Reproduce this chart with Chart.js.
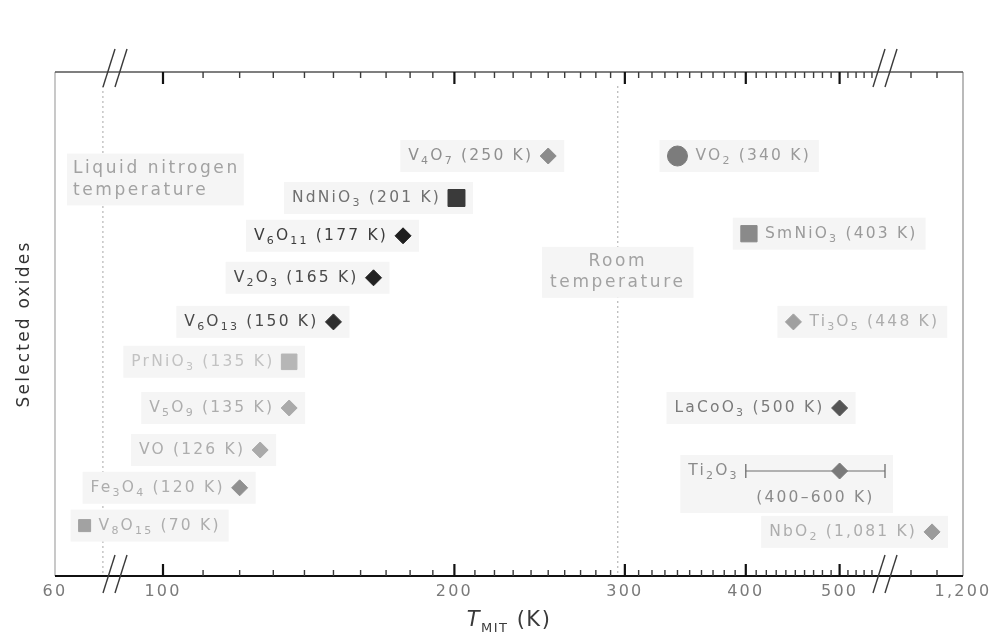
<!DOCTYPE html>
<html>
<head>
<meta charset="utf-8">
<title>Metal–insulator transition temperatures of selected oxides</title>
<script src="https://cdn.jsdelivr.net/npm/chart.js@4.4.1/dist/chart.umd.min.js"></script>
<style>
  html, body { margin: 0; padding: 0; background: #fff; }
  #wrap { width: 999px; height: 632px; }
</style>
</head>
<body>
<div id="wrap"><canvas id="chart" width="999" height="632"></canvas></div>
<script>
// ---- data -------------------------------------------------------------
// Formulas use {n} for subscripts.
const oxides  = ['V{4}O{7}', 'VO{2}', 'NdNiO{3}', 'V{6}O{11}', 'SmNiO{3}', 'V{2}O{3}', 'V{6}O{13}', 'Ti{3}O{5}',
                 'PrNiO{3}', 'V{5}O{9}', 'LaCoO{3}', 'VO', 'Ti{2}O{3}', 'Fe{3}O{4}', 'V{8}O{15}', 'NbO{2}'];
const tMitK   = [250, 340, 201, 177, 403, 165, 150, 448, 135, 135, 500, 126, 500, 120, 70, 1081];
const rowSlot = [2, 2, 3, 3.9, 3.85, 4.9, 5.95, 5.95, 6.9, 8, 8, 9, 9.5, 9.9, 10.8, 10.95];
const ti2o3RangeK = [400, 600];
const tickValuesK = [60, 100, 200, 300, 400, 500, 1200];
const tickLabels  = ['60', '100', '200', '300', '400', '500', '1,200'];
const liquidNitrogenK = 77;
const roomTemperatureK = 295;

// ---- styles -----------------------------------------------------------
const markerShape = ['rectRot', 'circle', 'rect', 'rectRot', 'rect', 'rectRot', 'rectRot', 'rectRot',
                     'rect', 'rectRot', 'rectRot', 'rectRot', 'rectRot', 'rectRot', 'rect', 'rectRot'];
const markerSize  = [8, 10, 12, 8, 11.5, 8, 8, 8, 11, 8, 8, 8, 8, 8, 8.5, 8];
const markerColor = ['#8c8c8c', '#7c7c7c', '#3a3a3a', '#1e1e1e', '#8a8a8a', '#222222', '#2e2e2e', '#a0a0a0',
                     '#b6b6b6', '#aaaaaa', '#555555', '#aaaaaa', '#7a7a7a', '#909090', '#a2a2a2', '#9c9c9c'];
const textColor   = ['#8e8e8e', '#9a9a9a', '#707070', '#3c3c3c', '#9a9a9a', '#4a4a4a', '#4a4a4a', '#adadad',
                     '#c2c2c2', '#adadad', '#7a7a7a', '#adadad', '#8a8a8a', '#adadad', '#adadad', '#adadad'];
const labelSide   = ['left', 'right', 'left', 'left', 'right', 'left', 'left', 'right',
                     'left', 'left', 'left', 'left', 'left', 'left', 'right', 'left'];
const FONT = '"DejaVu Sans", "Open Sans", sans-serif';
const BOX_FILL = '#f5f5f5';
const LETTER_SPACING = '2.2px';

// ---- broken temperature axis -------------------------------------------
// 60–82 K compressed, 89–550 K logarithmic, 900–1200 K linear after the break.
const AXIS_SPAN = 908;
function axisPos(k) {
  if (k <= 82) return 60 * Math.log(k / 60) / Math.log(82 / 60);
  if (k <= 550) return 108 + 968 * Math.log10(k / 100);
  const a = 108 + 968 * Math.log10(5.5);
  if (k <= 600) return a + (k - 550) / 50 * (830 - a);
  if (k < 900) return 830;
  return 830 + (k - 900) * (AXIS_SPAN - 830) / 300;
}
const breakLow = axisPos(82);
const breakHigh = axisPos(600);
const minorTicksK = [];
for (let k = 110; k <= 540; k += 10) if (k % 100 !== 0) minorTicksK.push(k);
minorTicksK.push(1000, 1100);
const majorTicksK = tickValuesK.slice(1, -1);

// ---- label helpers -----------------------------------------------------
function parseFormula(f) {
  const runs = [];
  const re = /([^{]+)|\{([^}]*)\}/g;
  let m;
  while ((m = re.exec(f))) runs.push(m[1] ? { t: m[1], sub: false } : { t: m[2], sub: true });
  return runs;
}
const fmtK = k => k.toLocaleString('en-US');
function runFont(r, size) { return r.sub ? `${Math.round(size * 0.68)}px ${FONT}` : `${size}px ${FONT}`; }
function runsWidth(ctx, runs, size) {
  let w = 0;
  for (const r of runs) { ctx.font = runFont(r, size); w += ctx.measureText(r.t).width; }
  return w;
}
function drawRuns(ctx, runs, x, y, align, color, size) {
  const w = runsWidth(ctx, runs, size);
  let cx = align === 'right' ? x - w : align === 'center' ? x - w / 2 : x;
  ctx.fillStyle = color;
  ctx.textBaseline = 'middle';
  ctx.textAlign = 'left';
  for (const r of runs) {
    ctx.font = runFont(r, size);
    ctx.fillText(r.t, cx, r.sub ? y + size * 0.33 : y);
    cx += ctx.measureText(r.t).width;
  }
}

const LABEL_SIZE = 15.5;
const tiIndex = oxides.indexOf('Ti{2}O{3}');

// Reference lines, annotation notes and oxide labels, under the markers.
const labelLayer = {
  id: 'labelLayer',
  beforeDraw(chart) {
    chart.ctx.letterSpacing = LETTER_SPACING;
  },
  beforeDatasetsDraw(chart) {
    const { ctx, chartArea: a, scales: { x, y } } = chart;
    const px = k => x.getPixelForValue(axisPos(k));
    ctx.save();

    ctx.strokeStyle = '#a8a8a8';
    ctx.lineWidth = 1;
    ctx.setLineDash([2, 3]);
    for (const k of [liquidNitrogenK, roomTemperatureK]) {
      ctx.beginPath();
      ctx.moveTo(px(k), a.top + 14);
      ctx.lineTo(px(k), a.bottom);
      ctx.stroke();
    }
    ctx.setLineDash([]);

    const noteSize = 17, noteColor = '#a2a2a2';
    ctx.letterSpacing = '2.6px';
    ctx.font = `${noteSize}px ${FONT}`;
    const lnX = px(liquidNitrogenK) - 30;
    const ln1 = 'Liquid nitrogen', ln2 = 'temperature';
    const lnW = Math.max(ctx.measureText(ln1).width, ctx.measureText(ln2).width);
    ctx.fillStyle = BOX_FILL;
    ctx.fillRect(lnX - 6, y.getPixelForValue(2.3) - 15, lnW + 10, y.getPixelForValue(2.82) - y.getPixelForValue(2.3) + 30);
    const rtX = px(roomTemperatureK);
    const rt1 = 'Room', rt2 = 'temperature';
    const rtW = ctx.measureText(rt2).width;
    ctx.fillRect(rtX - rtW / 2 - 8, y.getPixelForValue(4.52) - 15, rtW + 16, y.getPixelForValue(5.02) - y.getPixelForValue(4.52) + 30);
    ctx.fillStyle = noteColor;
    ctx.textBaseline = 'middle';
    ctx.textAlign = 'left';
    ctx.fillText(ln1, lnX, y.getPixelForValue(2.3));
    ctx.fillText(ln2, lnX, y.getPixelForValue(2.82));
    ctx.textAlign = 'center';
    ctx.fillText(rt1, rtX, y.getPixelForValue(4.52));
    ctx.fillText(rt2, rtX, y.getPixelForValue(5.02));
    ctx.letterSpacing = LETTER_SPACING;

    oxides.forEach((f, i) => {
      const mx = px(tMitK[i]);
      const my = y.getPixelForValue(rowSlot[i]);
      const half = markerShape[i] === 'rect' ? markerSize[i] * Math.SQRT1_2 : markerSize[i];
      const side = labelSide[i];
      let runs, anchor;
      if (i === tiIndex) {
        runs = parseFormula(f);
        anchor = px(ti2o3RangeK[0]) - 7;
      } else {
        runs = parseFormula(f).concat([{ t: ` (${fmtK(tMitK[i])} K)`, sub: false }]);
        anchor = side === 'left' ? mx - half - 7 : mx + half + 8;
      }
      const w = runsWidth(ctx, runs, LABEL_SIZE);
      const tl = side === 'left' ? anchor - w : anchor;
      const tr = tl + w;
      const bl = Math.min(tl, mx - half) - 8;
      let br = Math.max(tr, mx + half) + 8;
      let bb = my + 16;
      if (i === tiIndex) { br = px(ti2o3RangeK[1]) + 8; bb = my + 42; }
      ctx.fillStyle = BOX_FILL;
      ctx.fillRect(bl, my - 16, br - bl, bb - (my - 16));
      drawRuns(ctx, runs, anchor, my, side === 'left' ? 'right' : 'left', textColor[i], LABEL_SIZE);
      if (i === tiIndex) {
        const mid = (px(ti2o3RangeK[0]) + px(ti2o3RangeK[1])) / 2;
        drawRuns(ctx, [{ t: `(${ti2o3RangeK[0]}–${ti2o3RangeK[1]} K)`, sub: false }], mid, my + 27, 'center', textColor[i], LABEL_SIZE);
      }
    });
    ctx.restore();
  }
};

// Frame, inward ticks, axis breaks and the x-axis title, over everything.
const frameLayer = {
  id: 'frameLayer',
  afterDraw(chart) {
    const { ctx, chartArea: a, scales: { x } } = chart;
    ctx.save();
    ctx.setLineDash([]);

    ctx.lineWidth = 1.2;
    ctx.strokeStyle = '#a4a4a4';
    ctx.beginPath(); ctx.moveTo(a.left, a.top); ctx.lineTo(a.left, a.bottom); ctx.stroke();
    ctx.strokeStyle = '#8c8c8c';
    ctx.beginPath(); ctx.moveTo(a.right, a.top); ctx.lineTo(a.right, a.bottom); ctx.stroke();
    ctx.strokeStyle = '#555';
    ctx.lineWidth = 1.5;
    ctx.beginPath(); ctx.moveTo(a.left, a.top); ctx.lineTo(a.right, a.top); ctx.stroke();
    ctx.strokeStyle = '#111';
    ctx.lineWidth = 2.2;
    ctx.beginPath(); ctx.moveTo(a.left, a.bottom); ctx.lineTo(a.right, a.bottom); ctx.stroke();

    // inward tick marks, filled as thin bars on both the top and bottom axes
    const tickBar = (k, len, w, color) => {
      const xp = x.getPixelForValue(axisPos(k));
      ctx.fillStyle = color;
      ctx.fillRect(xp - w / 2, a.bottom - len, w, len);
      ctx.fillRect(xp - w / 2, a.top, w, len);
    };
    minorTicksK.forEach(k => tickBar(k, 6, 1.4, '#3a3a3a'));
    majorTicksK.forEach(k => tickBar(k, 12, 2.2, '#111'));

    ctx.strokeStyle = '#3a3a3a';
    ctx.lineWidth = 1.4;
    for (const b of [breakLow, breakHigh]) {
      const bx = x.getPixelForValue(b);
      for (const yy of [a.top - 4, a.bottom - 2]) {
        for (const o of [-6, 6]) {
          ctx.beginPath();
          ctx.moveTo(bx + o - 6, yy + 19);
          ctx.lineTo(bx + o + 6, yy - 19);
          ctx.stroke();
        }
      }
    }

    const cx = (a.left + a.right) / 2;
    const base = 626;
    ctx.letterSpacing = '1.5px';
    ctx.fillStyle = '#3a3a3a';
    ctx.textBaseline = 'alphabetic';
    ctx.textAlign = 'left';
    const parts = [
      { t: 'T', font: `italic 21px ${FONT}`, dy: 0 },
      { t: 'MIT', font: `13px ${FONT}`, dy: 6 },
      { t: ' (K)', font: `21px ${FONT}`, dy: 0 }
    ];
    let total = 0;
    parts.forEach(p => { ctx.font = p.font; p.w = ctx.measureText(p.t).width; total += p.w; });
    let tx = cx - total / 2;
    parts.forEach(p => { ctx.font = p.font; ctx.fillText(p.t, tx, base + p.dy); tx += p.w; });
    ctx.restore();
  }
};

// ---- chart --------------------------------------------------------------
const points = oxides.map((_, i) => ({ x: axisPos(tMitK[i]), y: rowSlot[i] }));

new Chart(document.getElementById('chart'), {
  type: 'scatter',
  data: {
    datasets: [
      {
        label: 'Selected oxides',
        data: points,
        pointStyle: markerShape,
        pointRadius: markerSize,
        pointBackgroundColor: markerColor,
        pointBorderColor: markerColor,
        pointBorderWidth: 1,
        order: 1
      },
      {
        type: 'line',
        label: 'Ti2O3 range',
        data: ti2o3RangeK.map(k => ({ x: axisPos(k), y: rowSlot[tiIndex] })),
        borderColor: '#6e6e6e',
        borderWidth: 1.2,
        pointStyle: 'line',
        rotation: 90,
        pointRadius: 7,
        pointBorderColor: '#6e6e6e',
        pointBorderWidth: 1.3,
        order: 2
      }
    ]
  },
  options: {
    responsive: false,
    animation: false,
    devicePixelRatio: 1,
    layout: { padding: { left: 0, right: 36, top: 72, bottom: 0 } },
    plugins: { legend: { display: false }, tooltip: { enabled: false } },
    scales: {
      x: {
        type: 'linear',
        min: 0,
        max: AXIS_SPAN,
        grid: { display: false, drawTicks: false },
        border: { display: false },
        afterBuildTicks: scale => { scale.ticks = tickValuesK.map(k => ({ value: axisPos(k) })); },
        afterFit: scale => { scale.height = 56; },
        ticks: {
          autoSkip: false,
          maxRotation: 0,
          padding: 6,
          color: '#7a7a7a',
          font: { family: FONT, size: 16 },
          callback: (v, i) => tickLabels[i]
        }
      },
      y: {
        type: 'linear',
        reverse: true,
        min: 0,
        max: 12,
        grid: { display: false, drawTicks: false },
        border: { display: false },
        ticks: { display: false },
        afterFit: scale => { scale.width = 55; },
        title: {
          display: true,
          text: 'Selected oxides',
          color: '#333',
          font: { family: FONT, size: 17 },
          padding: { top: 14, bottom: 4 }
        }
      }
    }
  },
  plugins: [labelLayer, frameLayer]
});
</script>
</body>
</html>
